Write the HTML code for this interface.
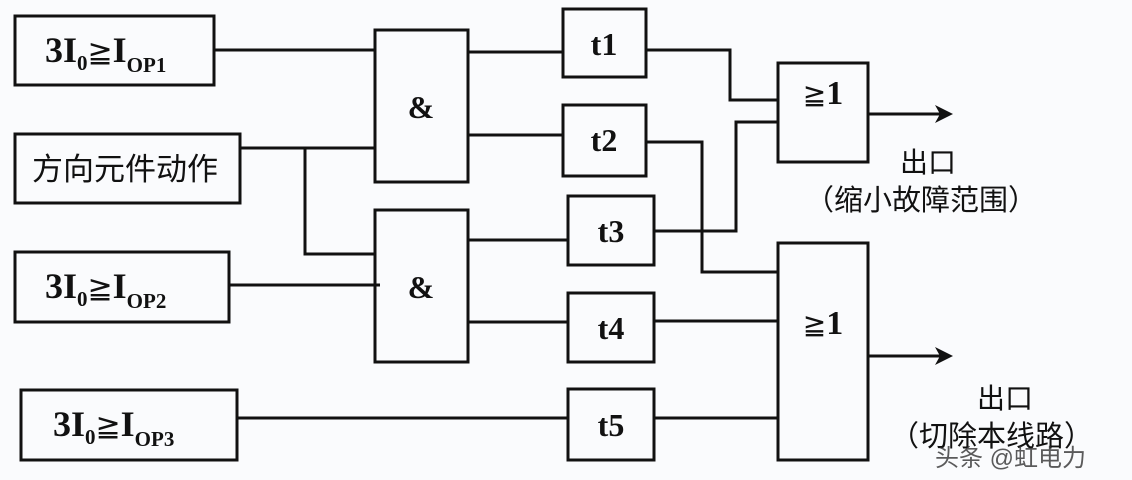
<!DOCTYPE html>
<html><head><meta charset="utf-8"><style>
html,body{margin:0;padding:0;background:#fafbfd;}
</style></head><body>
<svg width="1132" height="480" xmlns="http://www.w3.org/2000/svg" style="display:block">
<rect width="1132" height="480" fill="#fafbfd"/>
<g fill="none" stroke="#111" stroke-width="3">
<rect x="15" y="16" width="199" height="69"/>
<rect x="15" y="134" width="225" height="69"/>
<rect x="15" y="252" width="214" height="70"/>
<rect x="21" y="390" width="216" height="70"/>
<rect x="375" y="30" width="93" height="152"/>
<rect x="375" y="210" width="93" height="152"/>
<rect x="563" y="9" width="83" height="68"/>
<rect x="563" y="105" width="83" height="71"/>
<rect x="568" y="196" width="86" height="69"/>
<rect x="568" y="293" width="86" height="69"/>
<rect x="568" y="389" width="86" height="71"/>
<rect x="778" y="63" width="90" height="99"/>
<rect x="778" y="243" width="90" height="217"/>
<polyline points="214,50 375,50"/>
<polyline points="240,148 375,148"/>
<polyline points="305,148 305,254 375,254"/>
<polyline points="229,285 380,285"/>
<polyline points="237,418 568,418"/>
<polyline points="468,52 563,52"/>
<polyline points="468,135 563,135"/>
<polyline points="468,240 568,240"/>
<polyline points="468,322 568,322"/>
<polyline points="646,50 730,50 730,100 778,100"/>
<polyline points="646,142 702,142 702,272 778,272"/>
<polyline points="654,231 736,231 736,122 778,122"/>
<polyline points="654,321 778,321"/>
<polyline points="654,418 778,418"/>
<polyline points="868,114 948,114"/>
<polyline points="868,356 948,356"/>
</g>
<g fill="#111">
<polygon points="953,114 935,105 940,114 935,123"/>
<polygon points="953,356 935,347 940,356 935,365"/>
</g>
<g font-family="Liberation Serif, serif" font-weight="bold" fill="#111">
<text x="45" y="62" font-size="36">3I<tspan font-size="21" dy="8">0</tspan><tspan dy="-8" font-weight="normal" font-family="DejaVu Sans, sans-serif" font-size="30">≧</tspan>I<tspan font-size="21" dy="10">OP1</tspan></text>
<text x="45" y="298" font-size="36">3I<tspan font-size="21" dy="8">0</tspan><tspan dy="-8" font-weight="normal" font-family="DejaVu Sans, sans-serif" font-size="30">≧</tspan>I<tspan font-size="21" dy="10">OP2</tspan></text>
<text x="53" y="436" font-size="36">3I<tspan font-size="21" dy="8">0</tspan><tspan dy="-8" font-weight="normal" font-family="DejaVu Sans, sans-serif" font-size="30">≧</tspan>I<tspan font-size="21" dy="10">OP3</tspan></text>
<text x="421" y="118" font-size="32" text-anchor="middle">&amp;</text>
<text x="421" y="298" font-size="32" text-anchor="middle">&amp;</text>
<text x="604" y="55" font-size="32" text-anchor="middle">t1</text>
<text x="604" y="151" font-size="32" text-anchor="middle">t2</text>
<text x="611" y="242" font-size="32" text-anchor="middle">t3</text>
<text x="611" y="339" font-size="32" text-anchor="middle">t4</text>
<text x="611" y="436" font-size="32" text-anchor="middle">t5</text>
<text x="823" y="104" font-size="34" text-anchor="middle"><tspan font-weight="normal" font-family="DejaVu Sans, sans-serif" font-size="28">≧</tspan>1</text>
<text x="823" y="334" font-size="34" text-anchor="middle"><tspan font-weight="normal" font-family="DejaVu Sans, sans-serif" font-size="28">≧</tspan>1</text>
</g>
<g font-family="Liberation Sans, 'Noto Sans CJK SC', sans-serif" fill="#111">
<text x="32" y="180" font-size="31">方向元件动作</text>
<text x="900" y="172" font-size="28">出口</text>
<text x="805" y="210" font-size="29">（缩小故障范围）</text>
<text x="977" y="408" font-size="28">出口</text>
<text x="890" y="446" font-size="29">（切除本线路）</text>
<text x="935" y="466" font-size="24" fill="#333" opacity="0.8">头条 @虹电力</text>
</g>
</svg>
</body></html>
